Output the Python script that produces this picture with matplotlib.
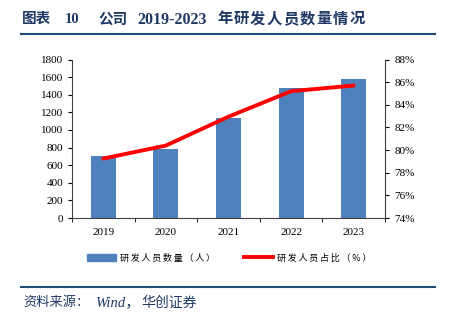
import matplotlib
matplotlib.use("Agg")
import matplotlib.pyplot as plt
from matplotlib.lines import Line2D
from matplotlib.patches import Patch

years = ["2019", "2020", "2021", "2022", "2023"]
staff = [704, 780, 1132, 1480, 1579]
ratio = [79.25, 80.4, 82.95, 85.2, 85.7]
left_ticks = [0, 200, 400, 600, 800, 1000, 1200, 1400, 1600, 1800]
right_ticks = [74, 76, 78, 80, 82, 84, 86, 88]
legend_labels = ["研发人员数量（人）", "研发人员占比（%）"]

serif = ["Liberation Serif", "Noto Sans CJK SC"]
plt.rcParams['font.family'] = serif

W, H = 451, 322
fig = plt.figure(figsize=(W/100, H/100), dpi=100)
ax = fig.add_axes([72/W, 1-218/H, (385-72)/W, (218-59.5)/H])
x = list(range(len(years)))
ax.bar(x, staff, width=0.4, color="#4F81BD", zorder=2)
ax.set_xlim(-0.5, 4.5)
ax.set_ylim(0, 1800)
ax.set_yticks(left_ticks)
ax.set_yticklabels([str(v) for v in left_ticks], fontsize=8)
ax.set_xticks(x)
ax.set_xticklabels(years, fontsize=8)
ax.set_xticks([i - 0.5 for i in range(len(years) + 1)], minor=True)
ax.tick_params(axis='x', which='major', length=0, pad=7)
ax.tick_params(axis='x', which='minor', length=3, direction='out')
ax.tick_params(axis='y', length=3, direction='out', pad=3.5)
ax.spines['top'].set_visible(False)
ax.spines['right'].set_visible(False)
for s in ['left', 'bottom']:
    ax.spines[s].set_color('#404040')
    ax.spines[s].set_linewidth(0.8)

ax2 = ax.twinx()
ax2.plot(x, ratio, color="#FF0000", linewidth=2.8, solid_capstyle='round', zorder=3)
ax2.set_ylim(74, 88)
ax2.set_yticks(right_ticks)
ax2.set_yticklabels([f"{v}%" for v in right_ticks], fontsize=8)
ax2.tick_params(axis='y', length=3, direction='out', pad=4)
ax2.spines['top'].set_visible(False)
ax2.spines['left'].set_visible(False)
ax2.spines['bottom'].set_visible(False)
ax2.spines['right'].set_color('#404040')
ax2.spines['right'].set_linewidth(0.8)

handles = [Patch(color="#4F81BD"), Line2D([0], [0], color="#FF0000", linewidth=2.8)]
spaced = ["\u2009".join(list(s)) for s in legend_labels]
fig.legend(handles, spaced, loc='center', bbox_to_anchor=(229/W, 1-258/H), ncol=2,
           frameon=False, prop={'family': ["Noto Sans CJK SC", "DejaVu Sans"], 'size': 6.5},
           handlelength=3.2, handleheight=0.7, columnspacing=3.2, handletextpad=0.45)

title_color = "#1F3864"
tfam = ["Liberation Serif", "Noto Sans CJK SC"]
ty = 1 - 19.5/H
for txt, px, fs in [("图表", 22, 10.5), ("10", 65, 10.5), ("公司", 98, 10.5), ("2019-2023", 137, 11.5)]:
    fig.text(px/W, ty, txt, fontsize=fs, fontweight='bold', color=title_color,
             va='center', ha='left', family=tfam)
for i, ch in enumerate("年研发人员数量情况"):
    fig.text((217 + i*16.6)/W, ty, ch, fontsize=11, fontweight='bold', color=title_color,
             va='center', ha='left', family=tfam)

fig.add_artist(Line2D([21/W, 435/W], [1-33.5/H, 1-33.5/H], color="#1F4E79", linewidth=1.5))
fig.add_artist(Line2D([21/W, 435/W], [1-287/H, 1-287/H], color="#1F4E79", linewidth=1.5))

sy = 1 - 303/H
src_color = "#1F3864"
for txt, px, fs in [("资料来源：", 23, 9.5), ("Wind，", 95, 10.5), ("华创证券", 141, 10)]:
    fig.text(px/W, sy, txt, fontsize=fs, style='italic', color=src_color,
             va='center', ha='left', family=tfam)

fig.savefig("out.png", dpi=100)
